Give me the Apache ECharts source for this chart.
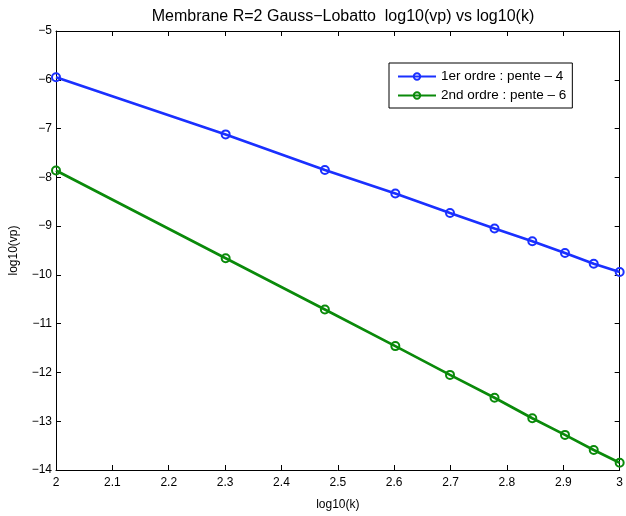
<!DOCTYPE html>
<html>
<head>
<meta charset="utf-8">
<script src="https://cdn.jsdelivr.net/npm/echarts@6/dist/echarts.min.js"></script>
<style>html,body{margin:0;padding:0;background:#fff}#c{width:626px;height:516px}</style>
</head>
<body>
<div id="c"></div>
<script>
var logK = [2, 2.301, 2.477, 2.602, 2.699, 2.778, 2.845, 2.903, 2.954, 3];
var ordre1 = [-5.95, -7.12, -7.85, -8.33, -8.73, -9.05, -9.31, -9.55, -9.77, -9.94];
var ordre2 = [-7.86, -9.66, -10.71, -11.46, -12.05, -12.52, -12.94, -13.28, -13.59, -13.85];
var seriesNames = ['1er ordre : pente \u2013 4', '2nd ordre : pente \u2013 6'];
var titleText = 'Membrane R=2 Gauss\u2212Lobatto  log10(vp) vs log10(k)';
var xName = 'log10(k)';
var yName = 'log10(vp)';

function pairs(xs, ys){ return xs.map(function(x,i){ return [x, ys[i]]; }); }
function minus(v){ return String(v).replace('-', '\u2212'); }

var font = 'Liberation Sans, Arial, Helvetica, sans-serif';
var blue = '#1a30ff', green = '#0a8a0a';
var chart = echarts.init(document.getElementById('c'), null, {renderer:'canvas'});
var axisCommon = {
  axisLine:{show:true, onZero:false, lineStyle:{color:'#000', width:1}},
  axisTick:{show:true, inside:true, length:5, lineStyle:{color:'#000'}},
  splitLine:{show:false}
};
chart.setOption({
  animation:false,
  backgroundColor:'#fff',
  title:{text:titleText, left:338, top:4, textAlign:'center',
    textStyle:{fontFamily:font, fontSize:16, fontWeight:'normal', color:'#000'}},
  grid:{left:54, right:4, top:31, bottom:38},
  legend:{
    orient:'vertical', left:389, top:63,
    padding:[6,6,5,8], itemGap:4, itemWidth:38, itemHeight:8,
    backgroundColor:'#fff', borderColor:'#000', borderWidth:1, borderRadius:0,
    textStyle:{fontFamily:font, fontSize:13.5, color:'#000', lineHeight:15},
    data:seriesNames
  },
  xAxis:[
    Object.assign({type:'value', min:2, max:3, interval:0.1, position:'bottom',
      name:xName, nameLocation:'middle', nameGap:29,
      nameTextStyle:{fontFamily:font, fontSize:12, color:'#000'},
      axisLabel:{fontFamily:font, fontSize:12, color:'#000', margin:7,
        formatter:function(v){ return minus(Math.round(v*10)/10); }}}, axisCommon),
    Object.assign({type:'value', min:2, max:3, interval:0.1, position:'top',
      axisLabel:{show:false}}, axisCommon)
  ],
  yAxis:[
    Object.assign({type:'value', min:-14, max:-5, interval:1, position:'left',
      name:yName, nameLocation:'middle', nameGap:36, nameRotate:90,
      nameTextStyle:{fontFamily:font, fontSize:12, color:'#000'},
      axisLabel:{fontFamily:font, fontSize:12, color:'#000', margin:4,
        formatter:function(v){ return minus(v); }}}, axisCommon),
    Object.assign({type:'value', min:-14, max:-5, interval:1, position:'right',
      axisLabel:{show:false}}, axisCommon)
  ],
  series:[
    {name:seriesNames[0], type:'line', data:pairs(logK, ordre1),
      color:blue, lineStyle:{width:2.7, color:blue},
      symbol:'circle', symbolSize:8, showAllSymbol:true,
      itemStyle:{color:'rgba(0,0,0,0)', borderColor:blue, borderWidth:2}},
    {name:seriesNames[1], type:'line', data:pairs(logK, ordre2),
      color:green, lineStyle:{width:2.7, color:green},
      symbol:'circle', symbolSize:8, showAllSymbol:true,
      itemStyle:{color:'rgba(0,0,0,0)', borderColor:green, borderWidth:2}}
  ]
});
</script>
</body>
</html>
